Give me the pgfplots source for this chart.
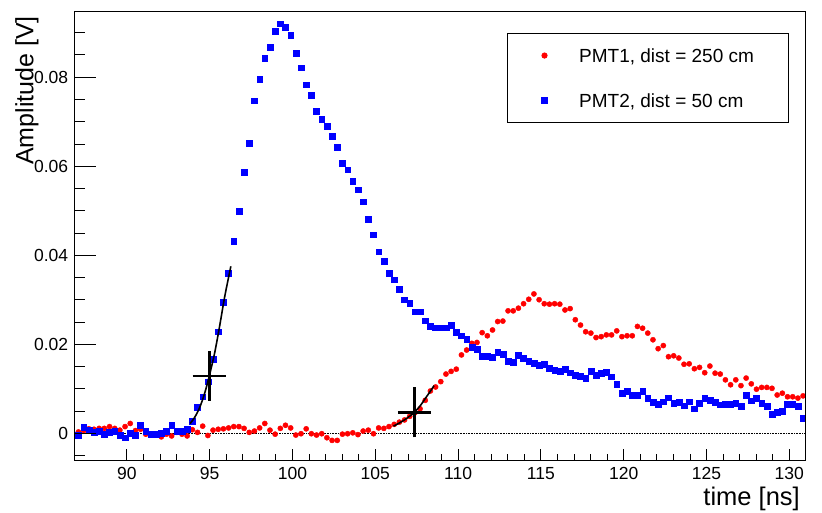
\documentclass[border=0pt]{standalone}
\usepackage{fontspec}
\setmainfont{Liberation Sans}
\usepackage{pgfplots}
\pgfplotsset{compat=1.18}
\usepackage{pgfplotstable}

\pgfplotstableread{
t v
86.768 0.0004
87.080 0.0003
87.393 0.0006
87.705 0.0010
88.018 0.0009
88.330 0.0011
88.643 0.0011
88.955 0.0015
89.268 0.0011
89.580 0.0007
89.893 0.0015
90.205 0.0022
90.518 0.0006
90.830 0.0009
91.143 -0.0002
91.455 -0.0002
91.768 -0.0002
92.080 -0.0008
92.393 -0.0002
92.705 -0.0006
93.018 0.0002
93.330 -0.0002
93.643 -0.0006
93.955 0.0008
94.268 0.0002
94.580 0.0016
94.893 -0.0005
95.205 0.0007
95.518 0.0009
95.830 0.0010
96.143 0.0012
96.455 0.0015
96.768 0.0015
97.080 0.0011
97.393 0.0002
97.705 0.0005
98.018 0.0012
98.330 0.0022
98.643 0.0007
98.955 -0.0002
99.268 0.0011
99.580 0.0018
99.893 0.0012
100.205 -0.0004
100.518 -0.0001
100.830 0.0010
101.143 -0.0001
101.455 -0.0004
101.768 -0.0001
102.080 -0.0010
102.393 -0.0016
102.705 -0.0016
103.018 -0.0002
103.330 -0.0001
103.643 0.0001
103.955 -0.0003
104.268 0.0005
104.580 0.0007
104.893 -0.0001
105.205 0.0012
105.518 0.0011
105.830 0.0015
106.143 0.0020
106.455 0.0025
106.768 0.0030
107.080 0.0038
107.393 0.0046
107.705 0.0055
108.018 0.0074
108.330 0.0095
108.643 0.0104
108.955 0.0116
109.268 0.0133
109.580 0.0139
109.893 0.0144
110.205 0.0176
110.518 0.0187
110.830 0.0202
111.143 0.0204
111.455 0.0226
111.768 0.0219
112.080 0.0232
112.393 0.0251
112.705 0.0252
113.018 0.0275
113.330 0.0275
113.643 0.0281
113.955 0.0291
114.268 0.0301
114.580 0.0313
114.893 0.0300
115.205 0.0291
115.518 0.0290
115.830 0.0291
116.143 0.0290
116.455 0.0277
116.768 0.0280
117.080 0.0255
117.393 0.0243
117.705 0.0228
118.018 0.0225
118.330 0.0215
118.643 0.0217
118.955 0.0221
119.268 0.0221
119.580 0.0230
119.893 0.0217
120.205 0.0219
120.518 0.0219
120.830 0.0240
121.143 0.0236
121.455 0.0225
121.768 0.0210
122.080 0.0190
122.393 0.0197
122.705 0.0172
123.018 0.0174
123.330 0.0169
123.643 0.0155
123.955 0.0156
124.268 0.0145
124.580 0.0148
124.893 0.0136
125.205 0.0151
125.518 0.0135
125.830 0.0133
126.143 0.0120
126.455 0.0109
126.768 0.0120
127.080 0.0107
127.393 0.0124
127.705 0.0111
128.018 0.0099
128.330 0.0103
128.643 0.0103
128.955 0.0101
129.268 0.0086
129.580 0.0090
129.893 0.0082
130.205 0.0082
130.518 0.0079
130.830 0.0084
}\redtable

\pgfplotstableread{
t v
86.768 0.0008
87.080 -0.0005
87.393 0.0013
87.705 0.0008
88.018 0.0002
88.330 0.0004
88.643 -0.0002
88.955 0.0002
89.268 0.0004
89.580 -0.0005
89.893 -0.0010
90.205 0.0000
90.518 -0.0005
90.830 0.0019
91.143 0.0004
91.455 -0.0002
91.768 -0.0002
92.080 0.0000
92.393 0.0004
92.705 0.0019
93.018 0.0005
93.330 0.0004
93.643 0.0009
93.955 0.0028
94.268 0.0058
94.580 0.0082
94.893 0.0116
95.205 0.0167
95.518 0.0228
95.830 0.0295
96.143 0.0359
96.455 0.0432
96.768 0.0498
97.080 0.0587
97.393 0.0651
97.705 0.0747
98.018 0.0796
98.330 0.0843
98.643 0.0868
98.955 0.0903
99.268 0.0920
99.580 0.0913
99.893 0.0894
100.205 0.0853
100.518 0.0821
100.830 0.0783
101.143 0.0759
101.455 0.0723
101.768 0.0706
102.080 0.0689
102.393 0.0667
102.705 0.0642
103.018 0.0607
103.330 0.0592
103.643 0.0567
103.955 0.0547
104.268 0.0520
104.580 0.0481
104.893 0.0446
105.205 0.0408
105.518 0.0387
105.830 0.0360
106.143 0.0345
106.455 0.0324
106.768 0.0300
107.080 0.0293
107.393 0.0273
107.705 0.0273
108.018 0.0253
108.330 0.0241
108.643 0.0237
108.955 0.0237
109.268 0.0237
109.580 0.0243
109.893 0.0227
110.205 0.0219
110.518 0.0211
110.830 0.0193
111.143 0.0189
111.455 0.0174
111.768 0.0174
112.080 0.0171
112.393 0.0183
112.705 0.0178
113.018 0.0162
113.330 0.0160
113.643 0.0175
113.955 0.0169
114.268 0.0161
114.580 0.0157
114.893 0.0153
115.205 0.0156
115.518 0.0146
115.830 0.0142
116.143 0.0139
116.455 0.0144
116.768 0.0136
117.080 0.0130
117.393 0.0129
117.705 0.0124
118.018 0.0139
118.330 0.0130
118.643 0.0135
118.955 0.0138
119.268 0.0127
119.580 0.0110
119.893 0.0090
120.205 0.0094
120.518 0.0085
120.830 0.0086
121.143 0.0094
121.455 0.0079
121.768 0.0070
122.080 0.0066
122.393 0.0071
122.705 0.0080
123.018 0.0067
123.330 0.0070
123.643 0.0062
123.955 0.0071
124.268 0.0055
124.580 0.0068
124.893 0.0079
125.205 0.0074
125.518 0.0069
125.830 0.0064
126.143 0.0065
126.455 0.0066
126.768 0.0067
127.080 0.0061
127.393 0.0085
127.705 0.0073
128.018 0.0079
128.330 0.0067
128.643 0.0060
128.955 0.0043
129.268 0.0047
129.580 0.0049
129.893 0.0066
130.205 0.0066
130.518 0.0060
130.830 0.0034
}\bluetable

\definecolor{rootred}{RGB}{255,0,0}
\definecolor{rootblue}{RGB}{0,0,255}

\begin{document}
\begin{tikzpicture}
\begin{axis}[
  at={(74pt,52.3pt)}, anchor=south west,
  width=731.7pt, height=449pt, scale only axis,
  xmin=86.81, xmax=130.99, ymin=-0.00616, ymax=0.0947,
  xtick={90,95,...,130}, minor x tick num=4,
  ytick=\empty,
  xtick pos=left, tick align=inside,
  major tick length=11.7pt, minor tick length=6.7pt,
  tick style={black, line width=0.8pt},
  axis line style={line width=0.9pt},
  /pgf/number format/assume math mode=true,
  xticklabel style={font=\fontsize{17.5}{17.5}\selectfont, anchor=base, inner sep=0pt, yshift=-19.3pt},
  xlabel={time [ns]},
  xlabel style={at={(axis description cs:0.9922,-0.0987)}, anchor=base east, inner sep=0pt, font=\fontsize{25.5}{25.5}\selectfont},
  ylabel={Amplitude [V]},
  ylabel style={at={(axis description cs:-0.0556,0.6586)}, anchor=base west, inner sep=0pt, font=\fontsize{25}{25}\selectfont},
  clip marker paths=true,
  legend cell align=left,
  legend image code/.code={\draw[#1] plot coordinates {(0pt,0pt)};},
  legend style={at={(rel axis cs:0.592,0.953)}, anchor=north west, draw=black, line width=0.9pt, fill=white,
    font=\fontsize{19}{19}\selectfont, inner xsep=34pt, inner ysep=15.5pt, row sep=31.4pt, column sep=31.8pt,
    nodes={inner sep=0pt, text height=13.6pt, text depth=0pt}},
]
\addplot[black, densely dotted, line width=0.6pt, forget plot] coordinates {(86.81,0) (130.99,0)};
\addplot[only marks, mark=*, mark size=2.6pt, draw=rootred, fill=rootred] table[x=t,y=v] {\redtable};
\addlegendentry{PMT1, dist = 250 cm}
\addplot[only marks, mark=square*, mark size=2.9pt, draw=rootblue, fill=rootblue] table[x=t,y=v] {\bluetable};
\addlegendentry{PMT2, dist = 50 cm}
% fit curves
\addplot[black, line width=1.6pt, smooth, forget plot] coordinates {
(93.82,0.0022) (94.10,0.0036) (94.40,0.0058) (94.70,0.0090) (94.98,0.0129)
(95.30,0.0180) (95.60,0.0240) (95.90,0.0305) (96.28,0.0375)};
\addplot[black, line width=1.6pt, smooth, forget plot] coordinates {
(106.10,0.0016) (106.45,0.0023) (106.80,0.0031) (107.10,0.0039) (107.36,0.0047)
(107.70,0.0061) (108.00,0.0077) (108.30,0.0093) (108.55,0.0107)};
% timing crosses
\addplot[black, line width=2.5pt, forget plot] coordinates {(93.98,0.0129) (95.98,0.0129)};
\addplot[black, line width=2.5pt, forget plot] coordinates {(94.98,0.0073) (94.98,0.0185)};
\addplot[black, line width=2.5pt, forget plot] coordinates {(106.36,0.0047) (108.36,0.0047)};
\addplot[black, line width=2.5pt, forget plot] coordinates {(107.36,-0.0009) (107.36,0.0103)};
\end{axis}
\begin{axis}[
  at={(74pt,52.3pt)}, anchor=south west,
  width=731.7pt, height=449pt, scale only axis,
  xmin=86.81, xmax=130.99, ymin=-0.00616, ymax=0.0947,
  xtick=\empty,
  ytick={0,0.02,0.04,0.06,0.08}, yticklabels={0,0.02,0.04,0.06,0.08},
  minor ytick={-0.005,0.005,0.01,0.015,0.025,0.03,0.035,0.045,0.05,0.055,0.065,0.07,0.075,0.085,0.09},
  ytick pos=left, tick align=inside,
  major tick length=21.7pt, minor tick length=11pt,
  tick style={black, line width=0.8pt},
  axis line style={line width=0.9pt},
  yticklabel style={font=\fontsize{17.5}{17.5}\selectfont, anchor=east, inner sep=0pt, xshift=-5.7pt},
]
\end{axis}
\pgfresetboundingbox
\path[use as bounding box] (0,0) rectangle (822pt,513pt);
\end{tikzpicture}
\end{document}
